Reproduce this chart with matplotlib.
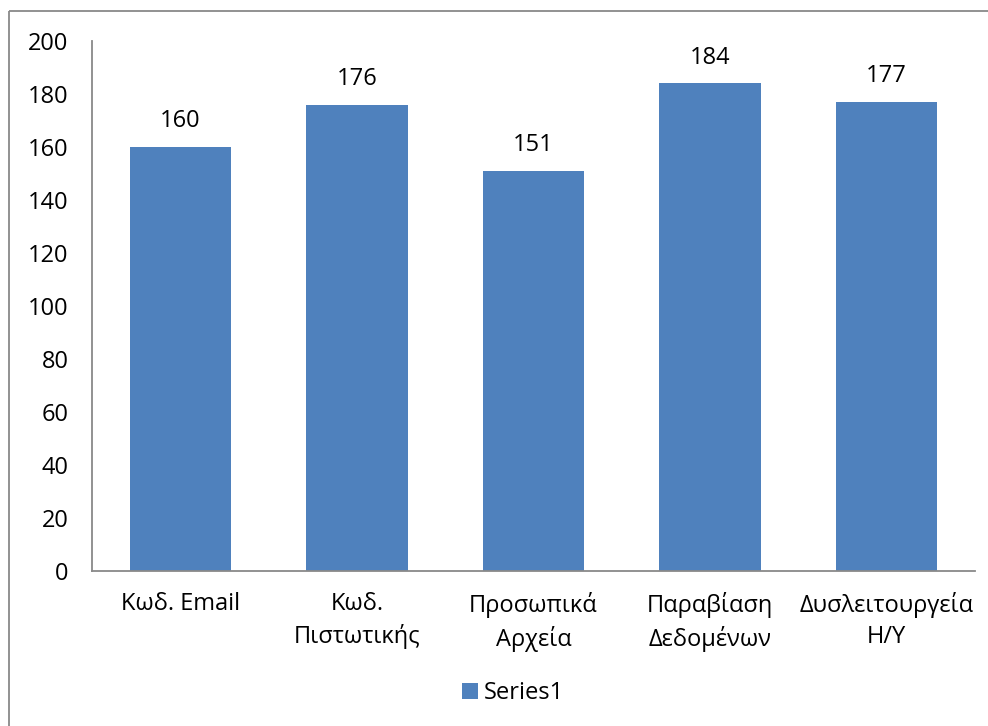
import matplotlib
matplotlib.use("Agg")
import matplotlib.pyplot as plt
from matplotlib.patches import Rectangle

plt.rcParams['font.family'] = ['Open Sans', 'DejaVu Sans']

categories = ["Κωδ. Email", "Κωδ.\nΠιστωτικής", "Προσωπικά\nΑρχεία",
              "Παραβίαση\nΔεδομένων", "Δυσλειτουργεία\nΗ/Υ"]
values = [160, 176, 151, 184, 177]
y_ticks = [0, 20, 40, 60, 80, 100, 120, 140, 160, 180, 200]
series_name = "Series1"

bar_color = "#4F81BD"
axis_color = "#898989"
text_color = "#000000"
fs = 17

W, H = 988, 726
fig = plt.figure(figsize=(W / 100, H / 100), dpi=100)

# outer chart-area frame
frame = Rectangle((9 / W, 1 - 11 / H), 1.2, -1.2, transform=fig.transFigure,
                  fill=False, edgecolor=axis_color, linewidth=1.3)
fig.add_artist(frame)

ax = fig.add_axes([92 / W, 1 - 571 / H, (975 - 92) / W, (571 - 41) / H])
x = list(range(len(categories)))
bars = ax.bar(x, values, width=0.575, color=bar_color, zorder=2,
              label=series_name)

for xi, v in zip(x, values):
    ax.annotate(f"{v}", (xi, v), xytext=(0, 10), textcoords="offset points",
                ha="center", va="bottom", fontsize=fs, color=text_color)

ax.set_xlim(-0.5, len(categories) - 0.5)
ax.set_ylim(0, 200)
ax.set_yticks(y_ticks)
ax.set_xticks(x)
ax.set_xticklabels(categories, fontsize=fs, color=text_color,
                   linespacing=1.42)
ax.tick_params(axis="y", length=0, pad=17, labelsize=fs, labelcolor=text_color)
ax.tick_params(axis="x", length=0, pad=15)

for side in ("top", "right"):
    ax.spines[side].set_visible(False)
for side in ("left", "bottom"):
    ax.spines[side].set_color(axis_color)
    ax.spines[side].set_linewidth(1.3)

fig.legend(handles=[bars], labels=[series_name], loc="center",
           bbox_to_anchor=(513 / W, 1 - 693 / H), frameon=False,
           fontsize=fs, handlelength=0.65, handleheight=0.65,
           handletextpad=0.25)

fig.savefig("out.png", dpi=100)
